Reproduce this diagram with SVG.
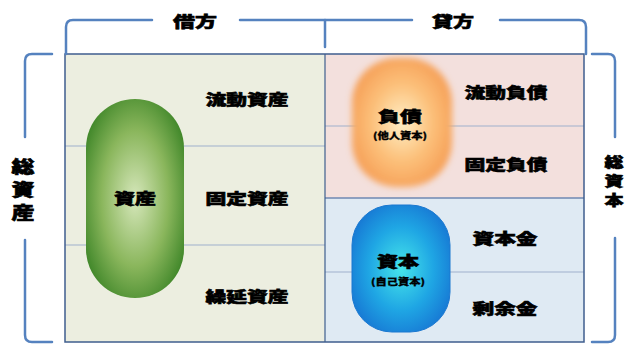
<svg xmlns="http://www.w3.org/2000/svg" width="625" height="344" viewBox="0 0 625 344">
<defs>
  <radialGradient id="gGreen" cx="0.5" cy="0.5" r="0.62">
    <stop offset="0" stop-color="#d6e7bb"/>
    <stop offset="0.55" stop-color="#8ab65c"/>
    <stop offset="1" stop-color="#358022"/>
  </radialGradient>
  <radialGradient id="gOrange" cx="0.5" cy="0.5" r="0.6">
    <stop offset="0" stop-color="#fff0c8"/>
    <stop offset="0.5" stop-color="#fcc07a"/>
    <stop offset="1" stop-color="#f4974e"/>
  </radialGradient>
  <radialGradient id="gBlue" cx="0.5" cy="0.5" r="0.6">
    <stop offset="0" stop-color="#46e6ea"/>
    <stop offset="0.55" stop-color="#1fa6e4"/>
    <stop offset="1" stop-color="#1673d2"/>
  </radialGradient>
  <filter id="soft" x="-20%" y="-20%" width="140%" height="140%">
    <feGaussianBlur stdDeviation="3"/>
  </filter>
</defs>
<style>
  .t { font-family: "Noto Sans CJK JP", "Noto Sans CJK SC", sans-serif; font-weight: 900; fill: #000; stroke: #000; stroke-width: 0.6; text-anchor: middle; dominant-baseline: central; }
  .b { font-size: 15px; }
  .s { font-size: 9px; stroke-width: 0.3; }
  .br { fill: none; stroke: #5582bf; stroke-width: 2.5; stroke-linecap: round; }
  .frame { fill: none; stroke: #3f5e8e; stroke-width: 1.5; }
  .div { stroke: #9fb0cc; stroke-width: 1; }
</style>
<rect width="625" height="344" fill="#ffffff"/>

<g id="panels">
  <rect x="65" y="54" width="260" height="288" fill="#eceee0"/>
  <rect x="325" y="54" width="259" height="144" fill="#f3e0dd"/>
  <rect x="325" y="198" width="259" height="144" fill="#dfeaf3"/>
  <line class="div" x1="65" y1="146" x2="325" y2="146"/>
  <line class="div" x1="65" y1="245" x2="325" y2="245"/>
  <line class="div" x1="325" y1="126" x2="584" y2="126"/>
  <line class="div" x1="325" y1="272" x2="584" y2="272"/>
  <line x1="325" y1="198" x2="584" y2="198" stroke="#6f89b2" stroke-width="1.5"/>
  <line x1="325" y1="54" x2="325" y2="342" stroke="#3f5e8e" stroke-width="1.2"/>
  <rect class="frame" x="65" y="54" width="519" height="288"/>
</g>

<g id="connectors">
  <path class="br" d="M66,54 V27 Q66,20 73,20 H152"/>
  <path class="br" d="M240,20 H412"/>
  <path class="br" d="M325,20 V47"/>
  <path class="br" d="M500,20 H579 Q586,20 586,27 V54"/>
  <path class="br" d="M52,54 H32 Q25,54 25,61 V137"/>
  <path class="br" d="M25,240 V335 Q25,342 32,342 H52"/>
  <path class="br" d="M592,54 H608 Q615,54 615,61 V137"/>
  <path class="br" d="M615,238 V335 Q615,342 608,342 H592"/>
</g>

<g id="header-debit"><text class="t b" x="195" y="20" textLength="44" lengthAdjust="spacingAndGlyphs">借方</text></g>
<g id="header-credit"><text class="t b" x="453" y="20" textLength="42" lengthAdjust="spacingAndGlyphs">貸方</text></g>

<g id="total-assets">
  <text class="t" style="font-size:17px" x="23" y="165" textLength="23" lengthAdjust="spacingAndGlyphs">総</text>
  <text class="t" style="font-size:17px" x="23" y="188" textLength="23" lengthAdjust="spacingAndGlyphs">資</text>
  <text class="t" style="font-size:17px" x="23" y="211" textLength="23" lengthAdjust="spacingAndGlyphs">産</text>
</g>
<g id="total-capital">
  <text class="t" style="font-size:14px" x="614" y="161" textLength="19" lengthAdjust="spacingAndGlyphs">総</text>
  <text class="t" style="font-size:14px" x="614" y="180" textLength="19" lengthAdjust="spacingAndGlyphs">資</text>
  <text class="t" style="font-size:14px" x="614" y="199" textLength="19" lengthAdjust="spacingAndGlyphs">本</text>
</g>

<g id="assets">
  <rect x="86" y="99" width="98" height="199" rx="49" fill="url(#gGreen)"/>
  <text class="t b" x="135" y="197" textLength="42" lengthAdjust="spacingAndGlyphs">資産</text>
</g>
<g id="current-assets"><text class="t b" x="247" y="98" textLength="83" lengthAdjust="spacingAndGlyphs">流動資産</text></g>
<g id="fixed-assets"><text class="t b" x="247" y="197" textLength="83" lengthAdjust="spacingAndGlyphs">固定資産</text></g>
<g id="deferred-assets"><text class="t b" x="247" y="295" textLength="83" lengthAdjust="spacingAndGlyphs">繰延資産</text></g>

<g id="liabilities">
  <rect x="352" y="58" width="100" height="129" rx="45" fill="url(#gOrange)" filter="url(#soft)"/>
  <text class="t b" x="400" y="115" textLength="44" lengthAdjust="spacingAndGlyphs">負債</text>
  <text class="t s" x="400" y="135" textLength="54" lengthAdjust="spacingAndGlyphs">(他人資本)</text>
</g>
<g id="current-liabilities"><text class="t b" x="506" y="91" textLength="83" lengthAdjust="spacingAndGlyphs">流動負債</text></g>
<g id="fixed-liabilities"><text class="t b" x="506" y="163" textLength="83" lengthAdjust="spacingAndGlyphs">固定負債</text></g>

<g id="capital">
  <rect x="352" y="205" width="98" height="127" rx="40" fill="url(#gBlue)" stroke="#1a78d0" stroke-width="1"/>
  <text class="t b" x="398" y="260" textLength="42" lengthAdjust="spacingAndGlyphs">資本</text>
  <text class="t s" x="398" y="281" textLength="54" lengthAdjust="spacingAndGlyphs">(自己資本)</text>
</g>
<g id="capital-stock"><text class="t b" x="505" y="237" textLength="65" lengthAdjust="spacingAndGlyphs">資本金</text></g>
<g id="surplus"><text class="t b" x="505" y="307" textLength="65" lengthAdjust="spacingAndGlyphs">剰余金</text></g>
</svg>
